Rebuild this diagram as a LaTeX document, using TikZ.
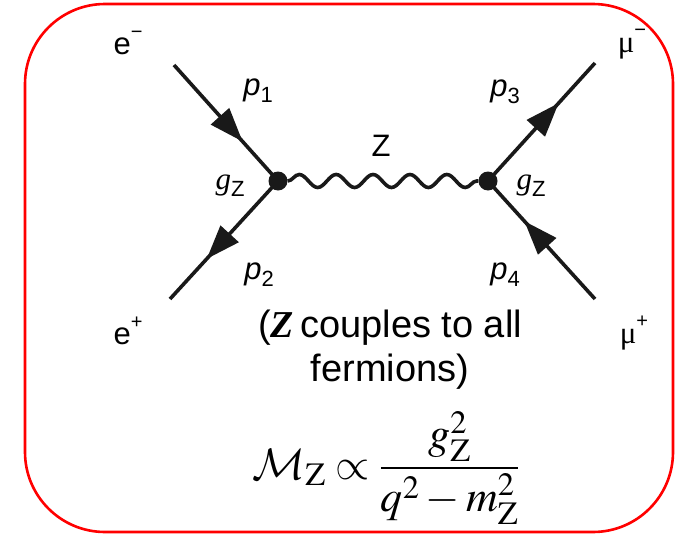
\RequirePackage{fix-cm}
\documentclass[tikz,border=0pt]{standalone}
\usepackage{mathptmx}
\usepackage[no-math]{fontspec}
\setmainfont{Liberation Sans}
\newfontfamily\serifface{Liberation Serif}
\DeclareMathAlphabet{\mathcalcm}{OMS}{cmsy}{m}{n}
\DeclareSymbolFont{cmsymbols}{OMS}{cmsy}{m}{n}
\DeclareMathSymbol{\cmpropto}{\mathrel}{cmsymbols}{"2F}
\usetikzlibrary{decorations.pathmorphing,decorations.markings,arrows.meta}
\newcommand{\lbl}{\fontsize{31}{34}\selectfont}
\newcommand{\smallidx}[1]{\raisebox{-0.22em}{\fontsize{22}{24}\selectfont #1}}
\newcommand{\supidx}[1]{\raisebox{0.5em}{\fontsize{20}{22}\selectfont #1}}
\newcommand{\gZ}{{\serifface\itshape g}\smallidx{Z}}
\begin{document}
\begin{tikzpicture}[x=1pt,y=-1pt,
  fermion/.style={line width=3.6pt, postaction={decorate},
    decoration={markings, mark=at position 0.66 with {\arrow{Triangle[length=34pt,width=24pt]}}}},
  boson/.style={line width=3.6pt, decorate,
    decoration={snake, segment length=36.9pt, amplitude=6.5pt}},
  vertexdot/.style={circle, fill=black!90, inner sep=0pt, minimum size=19pt},
  lab/.style={inner sep=0pt, font=\lbl},
  frame/.style={draw=red, line width=2.6pt, rounded corners=80pt}
]
\useasboundingbox (0,0) rectangle (683,538);

\coordinate (em) at (174,65);
\coordinate (ep) at (170,299);
\coordinate (mm) at (595,63);
\coordinate (mp) at (595,299);
\coordinate (c1) at (278,181);
\coordinate (c2) at (488,181);

\draw[fermion, black!90] (em) -- (c1);
\draw[fermion, black!90] (c1) -- (ep);
\draw[fermion, black!90] (c2) -- (mm);
\draw[fermion, black!90] (mp) -- (c2);

\node[vertexdot] (v1) at (c1) {};
\node[vertexdot] (v2) at (c2) {};
\draw[boson, black!90] (v1) -- (v2);

\node[lab] (lem) at (128,43) {e\supidx{−}};
\node[lab] (lep) at (128,331) {e\supidx{+}};
\node[lab] (lmm) at (632,44) {{\serifface μ}\supidx{−}};
\node[lab] (lmp) at (634,333) {{\serifface μ}\supidx{+}};
\node[lab] (p1) at (258,91) {\textit{p}\smallidx{1}};
\node[lab] (p2) at (259,275) {\textit{p}\smallidx{2}};
\node[lab] (p3) at (505,92) {\textit{p}\smallidx{3}};
\node[lab] (p4) at (505,275) {\textit{p}\smallidx{4}};
\node[lab] (g1) at (230,186) {\gZ};
\node[lab] (g2) at (531,186) {\gZ};
\node[lab] (zl) at (381,146) {Z};

\node[inner sep=0pt, font=\fontsize{38}{44}\selectfont, align=center] (note) at (390,350)
  {({\serifface\bfseries\itshape Z}\,couples to all\\fermions)};

\node[inner sep=0pt, anchor=base, font=\fontsize{44}{50}\selectfont] (amp) at (386,479)
  {$\displaystyle\mathcalcm{M}_{\mathrm{Z}}\cmpropto\frac{g_{\mathrm{Z}}^{2}}{q^{2}-m_{\mathrm{Z}}^{2}}$};

\draw[frame] (25,4) rectangle (673,532);
\end{tikzpicture}
\end{document}
